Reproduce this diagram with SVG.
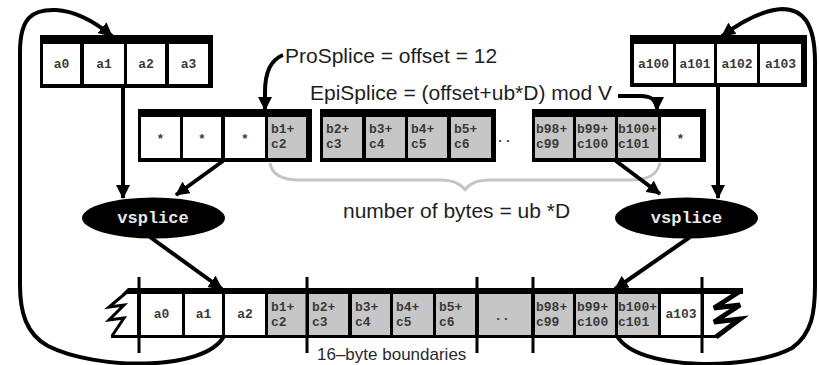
<svg xmlns="http://www.w3.org/2000/svg" width="819" height="365" viewBox="0 0 819 365">
  <style>
    .frame { fill: #000; }
    .cell { fill: #fff; }
    .cellg { fill: #c6c6c6; }
    .ct { font-family: "Liberation Mono", "DejaVu Sans Mono", monospace; font-size: 13px; font-weight: bold; fill: #3a3a3a; }
    .mid { text-anchor: middle; }
    .lbl { font-family: "Liberation Sans", Arial, sans-serif; font-size: 21px; fill: #1e1e1e; }
    .small { font-family: "Liberation Sans", Arial, sans-serif; font-size: 17px; fill: #2a2a2a; }
    .vs { font-family: "Liberation Mono", "DejaVu Sans Mono", monospace; font-size: 17px; font-weight: bold; fill: #e8e8e8; text-anchor: middle; }
    .wire { fill: none; stroke: #000; stroke-width: 4; stroke-linejoin: round; }
    .wire-a { fill: none; stroke: #000; stroke-width: 4; marker-end: url(#head); }
    .brace { fill: none; stroke: #c4c4c4; stroke-width: 3; stroke-linejoin: round; }
    .bound { stroke: #000; stroke-width: 3; }
  </style>
  <defs>
    <marker id="head" markerUnits="userSpaceOnUse" markerWidth="14" markerHeight="14" refX="13" refY="7" orient="auto">
      <path d="M0,0 L14,7 L0,14 z" fill="#000"/>
    </marker>
  </defs>
  <rect width="819" height="365" fill="#fff"/>

  <!-- source vector a0..a3 -->
  <g id="arrayA">
    <rect class="frame" x="40" y="35" width="173" height="53"/>
    <rect class="cell" x="43" y="44" width="37" height="40"/>
    <rect class="cell" x="84" y="44" width="40" height="40"/>
    <rect class="cell" x="127" y="44" width="38" height="40"/>
    <rect class="cell" x="169" y="44" width="39" height="40"/>
    <text class="ct mid" x="61.5" y="68">a0</text>
    <text class="ct mid" x="104" y="68">a1</text>
    <text class="ct mid" x="146" y="68">a2</text>
    <text class="ct mid" x="188.5" y="68">a3</text>
  </g>

  <!-- source vector a100..a103 -->
  <g id="arrayB">
    <rect class="frame" x="630" y="35" width="177" height="52"/>
    <rect class="cell" x="634" y="44" width="39" height="39"/>
    <rect class="cell" x="676" y="44" width="38" height="39"/>
    <rect class="cell" x="717" y="44" width="40" height="39"/>
    <rect class="cell" x="760" y="44" width="41" height="39"/>
    <text class="ct mid" x="653.5" y="68">a100</text>
    <text class="ct mid" x="695" y="68">a101</text>
    <text class="ct mid" x="737" y="68">a102</text>
    <text class="ct mid" x="780.5" y="68">a103</text>
  </g>

  <!-- computed vectors -->
  <g id="vec1">
    <rect class="frame" x="138" y="109" width="174" height="53"/>
    <rect class="cell" x="141" y="117" width="39" height="41"/>
    <rect class="cell" x="183" y="117" width="38" height="41"/>
    <rect class="cell" x="225" y="117" width="40" height="41"/>
    <rect class="cellg" x="268" y="117" width="38" height="41"/>
    <text class="ct mid" x="160.5" y="143">*</text>
    <text class="ct mid" x="202" y="143">*</text>
    <text class="ct mid" x="245" y="143">*</text>
    <text class="ct" x="271" y="133">b1+</text>
    <text class="ct" x="271" y="148">c2</text>
  </g>

  <g id="vec2">
    <rect class="frame" x="320" y="109" width="176" height="53"/>
    <rect class="cellg" x="323" y="117" width="39" height="41"/>
    <rect class="cellg" x="366" y="117" width="39" height="41"/>
    <rect class="cellg" x="408" y="117" width="39" height="41"/>
    <rect class="cellg" x="451" y="117" width="40" height="41"/>
    <text class="ct" x="326" y="133">b2+</text>
    <text class="ct" x="326" y="148">c3</text>
    <text class="ct" x="369" y="133">b3+</text>
    <text class="ct" x="369" y="148">c4</text>
    <text class="ct" x="411" y="133">b4+</text>
    <text class="ct" x="411" y="148">c5</text>
    <text class="ct" x="454" y="133">b5+</text>
    <text class="ct" x="454" y="148">c6</text>
  </g>

  <text id="gap" class="ct mid" x="504" y="142">..</text>

  <g id="vec3">
    <rect class="frame" x="532" y="109" width="174" height="53"/>
    <rect class="cellg" x="535" y="117" width="38" height="41"/>
    <rect class="cellg" x="576" y="117" width="39" height="41"/>
    <rect class="cellg" x="618" y="117" width="40" height="41"/>
    <rect class="cell" x="661" y="117" width="39" height="41"/>
    <text class="ct" x="536" y="133">b98+</text>
    <text class="ct" x="536" y="148">c99</text>
    <text class="ct" x="577" y="133">b99+</text>
    <text class="ct" x="577" y="148">c100</text>
    <text class="ct" x="618" y="133">b100+</text>
    <text class="ct" x="618" y="148">c101</text>
    <text class="ct mid" x="680.5" y="143">*</text>
  </g>

  <!-- byte span brace -->
  <path class="brace" d="M270 163 C272 176 284 180 300 180 L440 180 C454 180 461 184 465 190 C469 184 476 180 490 180 L630 180 C648 180 657 175 660 163"/>

  <!-- splice operators -->
  <g id="vsplice1">
    <ellipse cx="153.5" cy="218" rx="71.5" ry="20.5" fill="#000"/>
    <text class="vs" x="153" y="223">vsplice</text>
  </g>
  <g id="vsplice2">
    <ellipse cx="686.5" cy="218" rx="71.5" ry="20.5" fill="#000"/>
    <text class="vs" x="686.5" y="223">vsplice</text>
  </g>

  <!-- memory stream -->
  <g id="memory">
    <rect class="frame" x="137" y="288" width="567" height="50"/>
    <rect class="cell" x="141" y="294" width="41" height="41"/>
    <rect class="cell" x="185" y="294" width="37" height="41"/>
    <rect class="cell" x="225" y="294" width="40" height="41"/>
    <rect class="cellg" x="268" y="294" width="38" height="41"/>
    <rect class="cellg" x="309" y="294" width="39" height="41"/>
    <rect class="cellg" x="352" y="294" width="38" height="41"/>
    <rect class="cellg" x="393" y="294" width="40" height="41"/>
    <rect class="cellg" x="436" y="294" width="39" height="41"/>
    <rect class="cellg" x="479" y="294" width="52" height="41"/>
    <rect class="cellg" x="535" y="294" width="38" height="41"/>
    <rect class="cellg" x="576" y="294" width="39" height="41"/>
    <rect class="cellg" x="618" y="294" width="40" height="41"/>
    <rect class="cell" x="661" y="294" width="40" height="41"/>
    <text class="ct mid" x="161.5" y="318">a0</text>
    <text class="ct mid" x="203.5" y="318">a1</text>
    <text class="ct mid" x="245" y="318">a2</text>
    <text class="ct" x="271" y="311">b1+</text>
    <text class="ct" x="271" y="326">c2</text>
    <text class="ct" x="312" y="311">b2+</text>
    <text class="ct" x="312" y="326">c3</text>
    <text class="ct" x="355" y="311">b3+</text>
    <text class="ct" x="355" y="326">c4</text>
    <text class="ct" x="396" y="311">b4+</text>
    <text class="ct" x="396" y="326">c5</text>
    <text class="ct" x="439" y="311">b5+</text>
    <text class="ct" x="439" y="326">c6</text>
    <text class="ct mid" x="502" y="320">..</text>
    <text class="ct" x="536" y="311">b98+</text>
    <text class="ct" x="536" y="326">c99</text>
    <text class="ct" x="577" y="311">b99+</text>
    <text class="ct" x="577" y="326">c100</text>
    <text class="ct" x="618" y="311">b100+</text>
    <text class="ct" x="618" y="326">c101</text>
    <text class="ct mid" x="681" y="318">a103</text>
    <!-- torn left end -->
    <polygon points="122,294 128,288 138,288 138,294" fill="#000"/>
    <line x1="111" y1="336.5" x2="138" y2="336.5" stroke="#000" stroke-width="3"/>
    <polyline points="127,292 109,307 124,305 109,320 124,318 112,336" fill="none" stroke="#000" stroke-width="3" stroke-linejoin="miter"/>
    <!-- torn right end -->
    <rect x="703" y="288" width="40" height="6" fill="#000"/>
    <line x1="703" y1="336.5" x2="718" y2="336.5" stroke="#000" stroke-width="3"/>
    <polyline points="742,290 714,308 740,305 714,322 740,319 716,337" fill="none" stroke="#000" stroke-width="5" stroke-linejoin="miter"/>
    <!-- 16-byte boundaries -->
    <line class="bound" x1="139" y1="277" x2="139" y2="353"/>
    <line class="bound" x1="307" y1="277" x2="307" y2="353"/>
    <line class="bound" x1="477" y1="277" x2="477" y2="353"/>
    <line class="bound" x1="533" y1="277" x2="533" y2="353"/>
    <line class="bound" x1="702" y1="277" x2="702" y2="353"/>
  </g>

  <!-- labels -->
  <text class="lbl" x="285" y="63">ProSplice = offset = 12</text>
  <text class="lbl" x="310" y="100">EpiSplice = (offset+ub*D) mod V</text>
  <text class="lbl" x="343" y="218">number of bytes = ub *D</text>
  <text class="small" x="317" y="360">16–byte boundaries</text>

  <!-- connectors -->
  <g id="connectors">
    <path class="wire-a" d="M224 336 C205 372 95 370 48 346 C26 334 20 312 20 285 L20 52 C20 18 32 9 56 10 C76 11 95 22 112 36"/>
    <path class="wire-a" d="M617 336 C638 372 752 370 792 348 C812 334 815 312 815 285 L815 62 C815 22 802 9 782 9 C764 10 744 20 722 36"/>
    <path class="wire-a" d="M123 88 L123 198"/>
    <path class="wire-a" d="M718 87 L718 198"/>
    <path class="wire-a" d="M223 161 L176 195"/>
    <path class="wire-a" d="M616 161 L660 194"/>
    <path class="wire-a" d="M150 237 L222 289"/>
    <path class="wire-a" d="M690 237 L615 289"/>
    <path class="wire-a" d="M283 55 C270 60 265 75 265 92 L265 110"/>
    <path class="wire-a" d="M618 96 L640 96 C652 96 657 100 657 110"/>
  </g>
</svg>
